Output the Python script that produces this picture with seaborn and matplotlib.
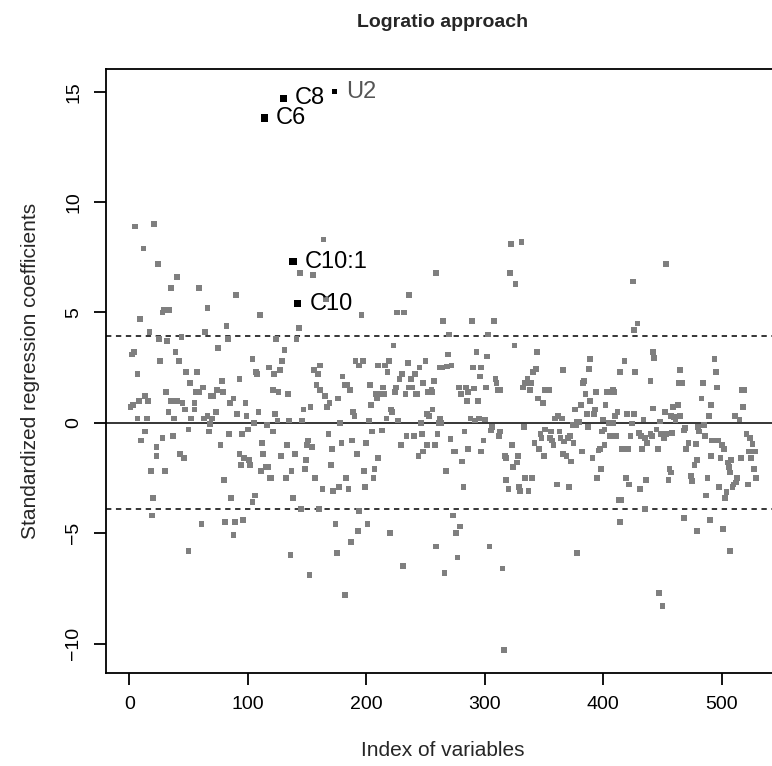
import matplotlib
matplotlib.use("Agg")
import matplotlib.pyplot as plt
import seaborn as sns
import pandas as pd

# ---- data ----
index = [5, 21, 12, 24, 164, 322, 331, 453,
    40, 35, 59, 90, 9, 28, 29, 34, 66, 110, 82, 17, 64, 25, 32, 44, 83, 75, 2, 4, 39, 42, 26, 104, 118, 7, 48, 57, 107, 108,
    78, 93, 51, 31, 56, 59, 62, 74, 79, 69, 71, 88, 13, 8, 16, 35, 40, 45, 55, 3, 1, 85, 98, 47, 55, 33, 73, 109, 91, 99,
    7, 15, 38, 52, 63, 66, 70, 68, 105, 116, 13, 50, 67, 100, 95, 10, 28, 37, 84, 23, 77, 112, 23, 43, 46, 93, 97, 101, 94,
    102, 113, 18, 30, 115, 117, 111,
    80, 119, 20, 86, 106, 104, 19, 61, 81, 89, 96, 88, 50,
    144, 155, 259, 166, 236, 196, 226, 232, 143, 124, 141, 223, 131, 129, 161, 156, 159, 127, 122, 191, 197, 194, 210, 216,
    219, 218, 235, 245, 250, 180, 230, 241, 228, 238, 262, 158, 161, 165, 182, 184, 186, 176, 203, 214, 215, 212, 208, 209,
    225, 224, 233, 236, 239, 243, 242, 248, 257, 252, 255, 256, 121, 126, 134, 169, 167, 153, 147, 204, 189, 190, 221, 222,
    256, 253, 251, 123, 125, 135, 146, 178, 202, 217, 227, 246, 261, 121, 205, 213, 168, 234, 240, 247, 260, 151, 150, 154,
    133, 179, 188, 200, 171, 229, 251, 258, 248, 128, 140, 149, 192, 210, 244, 170, 137, 148, 198, 207,
    120, 132, 157, 183, 206, 163, 172, 177, 185, 199, 138, 145, 160, 194, 174, 201, 193, 220, 187, 259, 175, 136, 231, 152, 182,
    321, 326, 265, 289, 308, 270, 303, 325, 269, 293, 302, 344, 389, 264, 268, 272, 290, 297, 296, 343, 341, 366, 388, 309,
    310, 336, 334, 339, 332, 338, 383, 384, 278, 280, 284, 286, 291, 301, 311, 313, 351, 354, 385, 394, 403, 285, 294, 345,
    349, 389, 376, 381, 393, 392, 386, 402, 262, 263, 288, 292, 295, 300, 359, 362, 365, 374, 378, 380, 377, 387, 400, 401,
    399, 306, 305, 333, 283, 313, 312, 351, 356, 363, 347, 348, 355, 357, 364, 367, 372, 370, 375, 342, 358, 271, 299, 323,
    346, 401, 286, 274, 275, 297, 317, 318, 328, 350, 366, 369, 382, 396, 397, 391, 281, 327, 324, 373, 267, 398,
    318, 334, 340, 395, 282, 320, 329, 330, 337, 361, 371, 273, 279, 276, 304, 378, 277, 315, 266, 316,
    425, 429, 426, 442, 443, 418, 494, 414, 427, 465, 495, 440, 464, 467, 484, 496, 519, 517, 404, 408, 409, 407, 483, 491,
    518, 442, 452, 459, 463, 412, 410, 420, 426, 457, 460, 461, 465, 489, 511, 515, 434, 405, 408, 424, 448, 485, 480, 481,
    486, 469, 468, 445, 430, 432, 435, 437, 440, 441, 449, 451, 453, 458, 423, 406, 411, 492, 497, 500, 502, 478, 472, 470,
    446, 416, 421, 433, 521, 524, 526, 523, 528, 491, 499, 479, 477, 505, 508, 506, 507, 516, 525, 527, 456, 457, 474,
    419, 422, 431, 436, 455, 475, 488, 487, 498, 504, 503, 513, 512, 510, 509, 522, 529, 413, 415, 435, 414, 468, 490, 479,
    501, 507, 447, 450]

coef = [8.9, 9.0, 7.9, 7.2, 8.3, 8.1, 8.2, 7.2,
    6.6, 6.1, 6.1, 5.8, 4.7, 5.0, 5.1, 5.1, 5.2, 4.9, 4.4, 4.1, 4.1, 3.8, 3.7, 3.9, 3.8, 3.4, 3.1, 3.2, 3.2, 2.8, 2.8, 2.9, 2.5, 2.2, 2.3, 2.3, 2.3, 2.2,
    1.9, 2.0, 1.8, 1.4, 1.4, 1.4, 1.6, 1.5, 1.4, 1.2, 1.2, 1.1, 1.2, 1.0, 1.0, 1.0, 1.0, 0.9, 0.9, 0.8, 0.7, 0.9, 0.9, 0.6, 0.6, 0.5, 0.5, 0.5, 0.4, 0.3,
    0.2, 0.2, 0.2, 0.2, 0.2, 0.3, 0.2, -0.05, 0.0, -0.1, -0.4, -0.3, -0.4, -0.3, -0.5, -0.8, -0.7, -0.6, -0.5, -1.1, -1.0, -0.9, -1.5, -1.4, -1.6, -1.4, -1.6, -1.7, -1.9,
    -1.9, -1.4, -2.2, -2.2, -2.0, -2.0, -2.2,
    -2.6, -2.5, -3.4, -3.4, -3.3, -3.6, -4.2, -4.6, -4.5, -4.5, -4.4, -5.1, -5.8,
    6.8, 6.7, 6.8, 5.6, 5.8, 4.9, 5.0, 5.0, 4.3, 3.8, 3.8, 3.5, 3.3, 2.8, 2.6, 2.4, 2.2, 2.4, 2.2, 2.8, 2.8, 2.6, 2.6, 2.6,
    2.8, 2.3, 2.7, 2.5, 2.8, 2.1, 2.2, 2.2, 2.0, 2.0, 2.5, 1.7, 1.5, 1.2, 1.7, 1.7, 1.5, 1.1, 1.7, 1.6, 1.3, 1.3, 1.3, 1.1,
    1.6, 1.4, 1.3, 1.6, 1.6, 1.3, 1.3, 1.8, 1.9, 1.4, 1.5, 1.4, 1.5, 1.4, 1.3, 0.9, 0.7, 0.7, 0.6, 0.8, 0.5, 0.3, 0.6, 0.5,
    0.6, 0.3, 0.4, 0.4, 0.1, 0.1, 0.1, 0.0, 0.1, 0.2, 0.1, 0.0, 0.0, -0.4, -0.4, -0.35, -0.5, -0.6, -0.6, -0.5, -0.5, -0.8, -1.0, -1.1,
    -1.0, -0.9, -0.8, -0.9, -1.2, -1.0, -1.0, -1.0, -1.3, -1.5, -1.4, -1.7, -1.4, -1.6, -1.5, -1.9, -2.2, -2.1, -2.2, -2.1,
    -2.5, -2.5, -2.5, -2.5, -2.5, -3.0, -3.1, -2.9, -3.0, -2.9, -3.4, -3.9, -3.9, -4.0, -4.6, -4.6, -4.9, -5.0, -5.4, -5.6, -5.9, -6.0, -6.5, -6.9, -7.8,
    6.8, 6.3, 4.6, 4.6, 4.6, 4.0, 4.0, 3.5, 3.1, 3.2, 3.0, 3.2, 2.9, 2.5, 2.55, 2.6, 2.5, 2.5, 2.1, 2.45, 2.3, 2.4, 2.45, 2.0,
    1.8, 2.0, 1.8, 1.8, 1.6, 1.5, 1.8, 1.9, 1.6, 1.3, 1.6, 1.4, 1.55, 1.6, 1.5, 1.5, 1.5, 1.5, 1.3, 1.4, 1.4, 1.0, 1.0, 1.1,
    0.9, 1.0, 0.6, 0.8, 0.6, 0.4, 0.4, 0.8, 0.2, 0.0, 0.2, 0.1, 0.2, 0.15, 0.2, 0.3, 0.2, -0.1, 0.05, 0.05, -0.1, -0.2, 0.15, -0.3,
    -0.4, -0.2, -0.35, -0.2, -0.4, -0.4, -0.6, -0.3, -0.4, -0.4, -0.5, -0.7, -0.7, -0.8, -0.7, -0.85, -0.6, -0.7, -0.9, -0.9, -1.0, -0.75, -0.8, -1.0,
    -1.2, -1.0, -1.2, -1.3, -1.3, -1.3, -1.5, -1.6, -1.5, -1.5, -1.4, -1.5, -1.3, -1.25, -1.2, -1.6, -1.75, -1.8, -2.0, -1.75, -2.2, -2.1,
    -2.6, -2.5, -2.5, -2.5, -2.9, -3.0, -2.9, -3.1, -3.1, -2.8, -2.9, -4.2, -4.7, -5.0, -5.6, -5.9, -6.1, -6.6, -6.8, -10.3,
    6.4, 4.5, 4.2, 3.2, 2.95, 2.8, 2.9, 2.3, 2.3, 2.4, 2.3, 1.9, 1.8, 1.8, 1.8, 1.6, 1.5, 1.5, 1.4, 1.5, 1.4, 1.4, 1.1, 0.8,
    0.7, 0.65, 0.5, 0.7, 0.8, 0.5, 0.3, 0.4, 0.4, 0.3, 0.25, 0.1, 0.3, 0.3, 0.3, 0.15, 0.15, 0.0, 0.0, -0.03, 0.06, -0.1, -0.2, -0.4,
    -0.6, -0.25, -0.35, -0.3, -0.45, -0.6, -0.7, -0.9, -0.5, -0.6, -0.5, -0.7, -0.5, -0.45, -0.6, -0.6, -0.6, -0.8, -0.8, -1.0, -1.2, -0.95, -0.9, -1.2,
    -1.2, -1.2, -1.2, -1.2, -0.5, -0.7, -0.95, -1.3, -1.3, -1.5, -1.6, -1.7, -1.9, -1.8, -1.7, -2.0, -2.25, -1.6, -1.6, -2.1, -2.1, -2.25, -2.4,
    -2.5, -2.8, -3.0, -2.6, -2.6, -2.65, -2.5, -3.3, -2.9, -3.15, -3.4, -2.5, -2.7, -2.8, -2.9, -2.8, -2.5, -3.5, -3.5, -3.9, -4.5, -4.3, -4.4, -4.9,
    -4.8, -5.8, -7.7, -8.3]

label_names = ["C6", "C8", "U2", "C10:1", "C10"]
label_index = [114, 130, 173, 138, 142]
label_coef = [13.8, 14.7, 15.0, 7.3, 5.4]
threshold = 3.92

x_ticks = [0, 100, 200, 300, 400, 500]
y_ticks = [-10, -5, 0, 5, 10, 15]

# ---- styling ----
sns.set_style("white")
plt.rcParams["font.family"] = ["Liberation Sans", "DejaVu Sans"]
plt.rcParams["axes.unicode_minus"] = True

W, H = 772, 766
fig = plt.figure(figsize=(W / 100, H / 100), dpi=100)
left_px, right_px, top_px, bottom_px = 105.5, 779.9, 69.0, 673.3
ax = fig.add_axes([left_px / W, 1 - bottom_px / H, (right_px - left_px) / W, (bottom_px - top_px) / H])

df = pd.DataFrame({"index": index, "coef": coef})
sns.scatterplot(data=df, x="index", y="coef", ax=ax, marker="s", s=17,
                color="#7f7f7f", edgecolor="none", linewidth=0, zorder=3)

lab = pd.DataFrame({"index": label_index, "coef": label_coef, "name": label_names})
big = lab[lab["name"] != "U2"]
small = lab[lab["name"] == "U2"]
sns.scatterplot(data=big, x="index", y="coef", ax=ax, marker="s", s=29,
                color="black", edgecolor="none", linewidth=0, zorder=4)
sns.scatterplot(data=small, x="index", y="coef", ax=ax, marker="s", s=13,
                color="black", edgecolor="none", linewidth=0, zorder=4)
for _, r in lab.iterrows():
    ax.annotate(r["name"], (r["index"], r["coef"]), xytext=(8.5, 0), textcoords="offset points",
                ha="left", va="center", fontsize=17,
                color="#555555" if r["name"] == "U2" else "black", zorder=5)

ax.axhline(0, color="black", lw=1.1, zorder=2)
ax.axhline(threshold, color="black", lw=1.1, ls=(0, (3.5, 3)), zorder=2)
ax.axhline(-threshold, color="black", lw=1.1, ls=(0, (3.5, 3)), zorder=2)

ax.set_xlim(-20.1, 549.1)
ax.set_ylim(-11.35, 16.03)
ax.set_xticks(x_ticks)
ax.set_yticks(y_ticks)
ax.set_xticklabels([str(t) for t in x_ticks])
ax.set_yticklabels([str(t).replace("-", "\u2212") for t in y_ticks], rotation=90, va="center")

for s in ax.spines.values():
    s.set_visible(True)
    s.set_color("black")
    s.set_linewidth(1.3)
ax.tick_params(axis="both", direction="out", length=8.6, width=1.3, color="black",
               labelsize=14, labelcolor="black", pad=8, bottom=True, left=True)

ax.set_xlabel("Index of variables", fontsize=15, labelpad=20)
ax.set_ylabel("Standardized regression coefficients", fontsize=15, labelpad=18)
ax.set_title("Logratio approach", fontsize=14, fontweight="bold", pad=30)

fig.savefig("out.png", dpi=100)
